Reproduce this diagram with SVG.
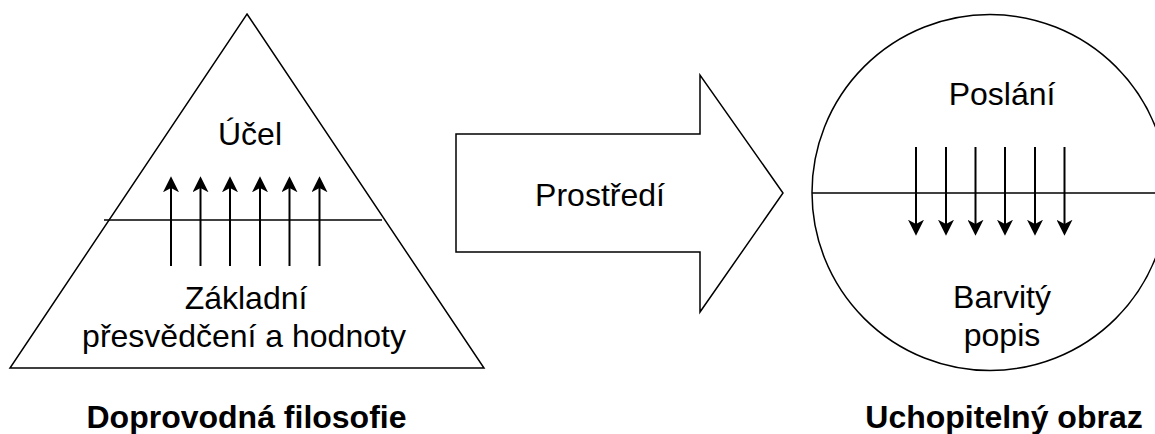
<svg xmlns="http://www.w3.org/2000/svg" width="1155" height="434" viewBox="0 0 1155 434">
<style>
.shape{fill:#fff;stroke:#000;stroke-width:1.5}
.line{fill:none;stroke:#000;stroke-width:1.5}
.arr{fill:none;stroke:#000;stroke-width:2;marker-end:url(#head)}
.t{font-family:"Liberation Sans",Arial,sans-serif;font-size:32px;fill:#000;text-anchor:middle}
.b{font-weight:bold}
</style>
<defs>
<marker id="head" markerUnits="userSpaceOnUse" markerWidth="16" markerHeight="16" viewBox="0 0 15 15" refX="4" refY="7.5" orient="auto">
<path d="M15 7.5 L0 0 L4 7.5 L0 15 Z" fill="#000"/>
</marker>
</defs>
<rect width="1155" height="434" fill="#fff"/>
<g id="pyramid">
<polygon class="shape" points="247,14 484,368 10,368"/>
<line class="line" x1="104" y1="220" x2="382" y2="220"/>
<text class="t" x="250" y="145">Účel</text>
<text class="t" x="246" y="309">Základní</text>
<text class="t" x="244" y="347">přesvědčení a hodnoty</text>
</g>
<g id="environment">
<polygon class="shape" points="456,134 700,134 700,75 783,193 700,312 700,252 456,252"/>
<text class="t" x="600" y="206">Prostředí</text>
</g>
<g id="vision">
<circle class="shape" cx="990" cy="192.5" r="178"/>
<line class="line" x1="812" y1="193" x2="1155" y2="193"/>
<text class="t" x="1002" y="105">Poslání</text>
<text class="t" x="1002" y="308">Barvitý</text>
<text class="t" x="1002" y="346">popis</text>
</g>
<g id="connectors">
<line class="arr" x1="171" y1="266" x2="171" y2="188"/>
<line class="arr" x1="200.5" y1="266" x2="200.5" y2="188"/>
<line class="arr" x1="230" y1="266" x2="230" y2="188"/>
<line class="arr" x1="260" y1="266" x2="260" y2="188"/>
<line class="arr" x1="289.5" y1="266" x2="289.5" y2="188"/>
<line class="arr" x1="319.5" y1="266" x2="319.5" y2="188"/>
<line class="arr" x1="916" y1="147" x2="916" y2="224"/>
<line class="arr" x1="946" y1="147" x2="946" y2="224"/>
<line class="arr" x1="975.5" y1="147" x2="975.5" y2="224"/>
<line class="arr" x1="1005" y1="147" x2="1005" y2="224"/>
<line class="arr" x1="1035" y1="147" x2="1035" y2="224"/>
<line class="arr" x1="1064.5" y1="147" x2="1064.5" y2="224"/>
</g>
<g id="labels">
<text class="t b" x="246.5" y="428">Doprovodná filosofie</text>
<text class="t b" x="1004" y="428">Uchopitelný obraz</text>
</g>
</svg>
